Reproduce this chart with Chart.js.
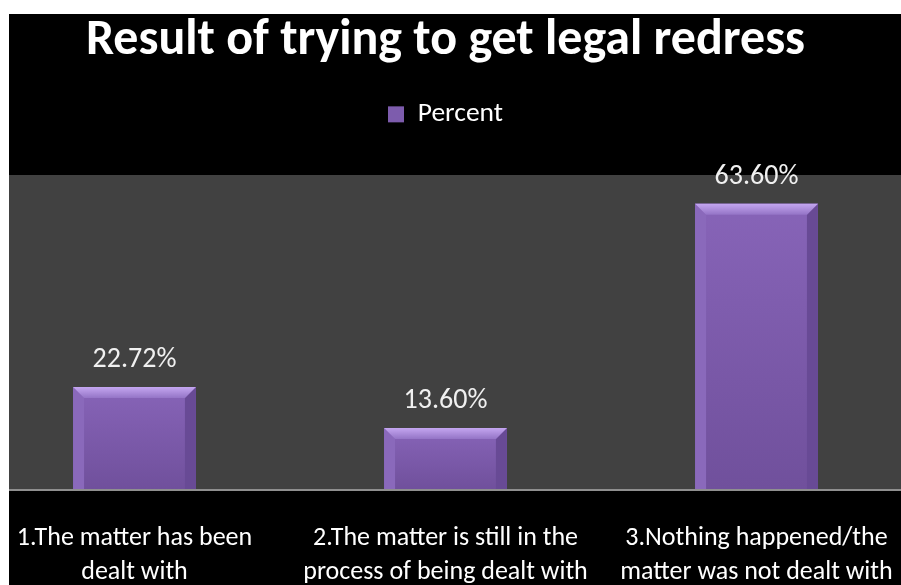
<!DOCTYPE html>
<html>
<head>
<meta charset="utf-8">
<title>Result of trying to get legal redress</title>
<script src="https://cdn.jsdelivr.net/npm/chart.js@4.4.1/dist/chart.umd.min.js"></script>
<style>
  html, body { margin: 0; padding: 0; background: #ffffff; width: 901px; height: 585px; overflow: hidden; }
  #frame { position: absolute; left: 9px; top: 14px; width: 892px; height: 571px; background: #000000; overflow: hidden; }
  #holder { position: absolute; left: -30px; top: -14px; width: 933px; height: 585px; }
</style>
</head>
<body>
<div id="frame"><div id="holder"><canvas id="chart" width="933" height="585"></canvas></div></div>
<script>
// Survey answers (two-line category labels) and their shares in percent
const categories = [
  ["1.The matter has been", "dealt with"],
  ["2.The matter is still in the", "process of being dealt with"],
  ["3.Nothing happened/the", "matter was not dealt with"]
];
const seriesName = "Percent";
const percentValues = [22.72, 13.60, 63.60];
const chartTitle = "Result of trying to get legal redress";
const valueAxisRange = [0, 70];

const FONT = "Carlito, Lato, 'Liberation Sans', sans-serif";

// Gray plot panel, bevelled bars, value labels and the base line
const bevelBars = {
  id: 'bevelBars',
  beforeLayout(chart) {
    const lg = chart.legend;
    if (lg && !lg._heightFixed) {
      const fit = lg.fit;
      lg.fit = function () { fit.call(this); this.height = 104; };
      lg._heightFixed = true;
    }
  },
  beforeDraw(chart) {
    const { ctx, chartArea: a } = chart;
    ctx.save();
    ctx.fillStyle = '#414141';
    ctx.fillRect(a.left, a.top, a.right - a.left, a.bottom - a.top);
    ctx.restore();
  },
  afterDatasetsDraw(chart) {
    const { ctx, chartArea: a } = chart;
    const meta = chart.getDatasetMeta(0);
    const values = chart.data.datasets[0].data;
    ctx.save();
    meta.data.forEach((bar, i) => {
      const { x, y, base, width } = bar.getProps(['x', 'y', 'base', 'width'], true);
      const l = x - width / 2, r = x + width / 2, t = y, b = base;
      const e = Math.min(11, (b - t) / 2);

      let g = ctx.createLinearGradient(0, t, 0, b);
      g.addColorStop(0, '#8764b8');
      g.addColorStop(1, '#70509c');
      ctx.fillStyle = g;
      ctx.fillRect(l, t, width, b - t);

      // left face
      ctx.beginPath();
      ctx.moveTo(l, t); ctx.lineTo(l + e, t + e); ctx.lineTo(l + e, b); ctx.lineTo(l, b);
      ctx.closePath();
      ctx.fillStyle = '#8a69bb';
      ctx.fill();

      // right face
      ctx.beginPath();
      ctx.moveTo(r, t); ctx.lineTo(r - e, t + e); ctx.lineTo(r - e, b); ctx.lineTo(r, b);
      ctx.closePath();
      ctx.fillStyle = '#684a95';
      ctx.fill();

      // top face highlight
      ctx.beginPath();
      ctx.moveTo(l, t); ctx.lineTo(r, t); ctx.lineTo(r - e, t + e); ctx.lineTo(l + e, t + e);
      ctx.closePath();
      g = ctx.createLinearGradient(0, t, 0, t + e);
      g.addColorStop(0, '#c4a6f0');
      g.addColorStop(1, '#9474c6');
      ctx.fillStyle = g;
      ctx.fill();

      // value label
      ctx.font = '28px ' + FONT;
      ctx.fillStyle = '#f0f0f0';
      ctx.textAlign = 'center';
      ctx.textBaseline = 'alphabetic';
      ctx.fillText(values[i].toFixed(2) + '%', x, t - 20);
    });
    ctx.fillStyle = '#8f8f8f';
    ctx.fillRect(a.left, a.bottom, a.right - a.left, 2);
    ctx.restore();
  }
};

new Chart(document.getElementById('chart'), {
  type: 'bar',
  data: {
    labels: categories,
    datasets: [{
      label: seriesName,
      data: percentValues,
      backgroundColor: '#7d5cad',
      borderWidth: 0,
      categoryPercentage: 1,
      barPercentage: 0.395
    }]
  },
  options: {
    responsive: false,
    devicePixelRatio: 1,
    animation: false,
    layout: { padding: 0 },
    plugins: {
      title: {
        display: true,
        text: chartTitle,
        color: '#ffffff',
        font: { family: FONT, size: 50, weight: 'bold', lineHeight: 1.2 },
        padding: { top: 11, bottom: 0 }
      },
      legend: {
        display: true,
        position: 'top',
        labels: {
          color: '#ffffff',
          font: { family: FONT, size: 27.5 },
          boxWidth: 16,
          boxHeight: 16,
          padding: 29.6
        }
      },
      tooltip: { enabled: false }
    },
    scales: {
      x: {
        grid: { display: false, drawTicks: false },
        border: { display: false },
        ticks: {
          color: '#ffffff',
          font: { family: FONT, size: 26, lineHeight: 1.31 },
          padding: 32.8,
          maxRotation: 0,
          autoSkip: false
        },
        afterFit(scale) {
          // labels sit well inside their category slots: no side padding needed
          scale.height = 96;
          scale.paddingLeft = 0;
          scale.paddingRight = 0;
        }
      },
      y: {
        display: false,
        min: valueAxisRange[0],
        max: valueAxisRange[1]
      }
    }
  },
  plugins: [bevelBars]
});
</script>
</body>
</html>
